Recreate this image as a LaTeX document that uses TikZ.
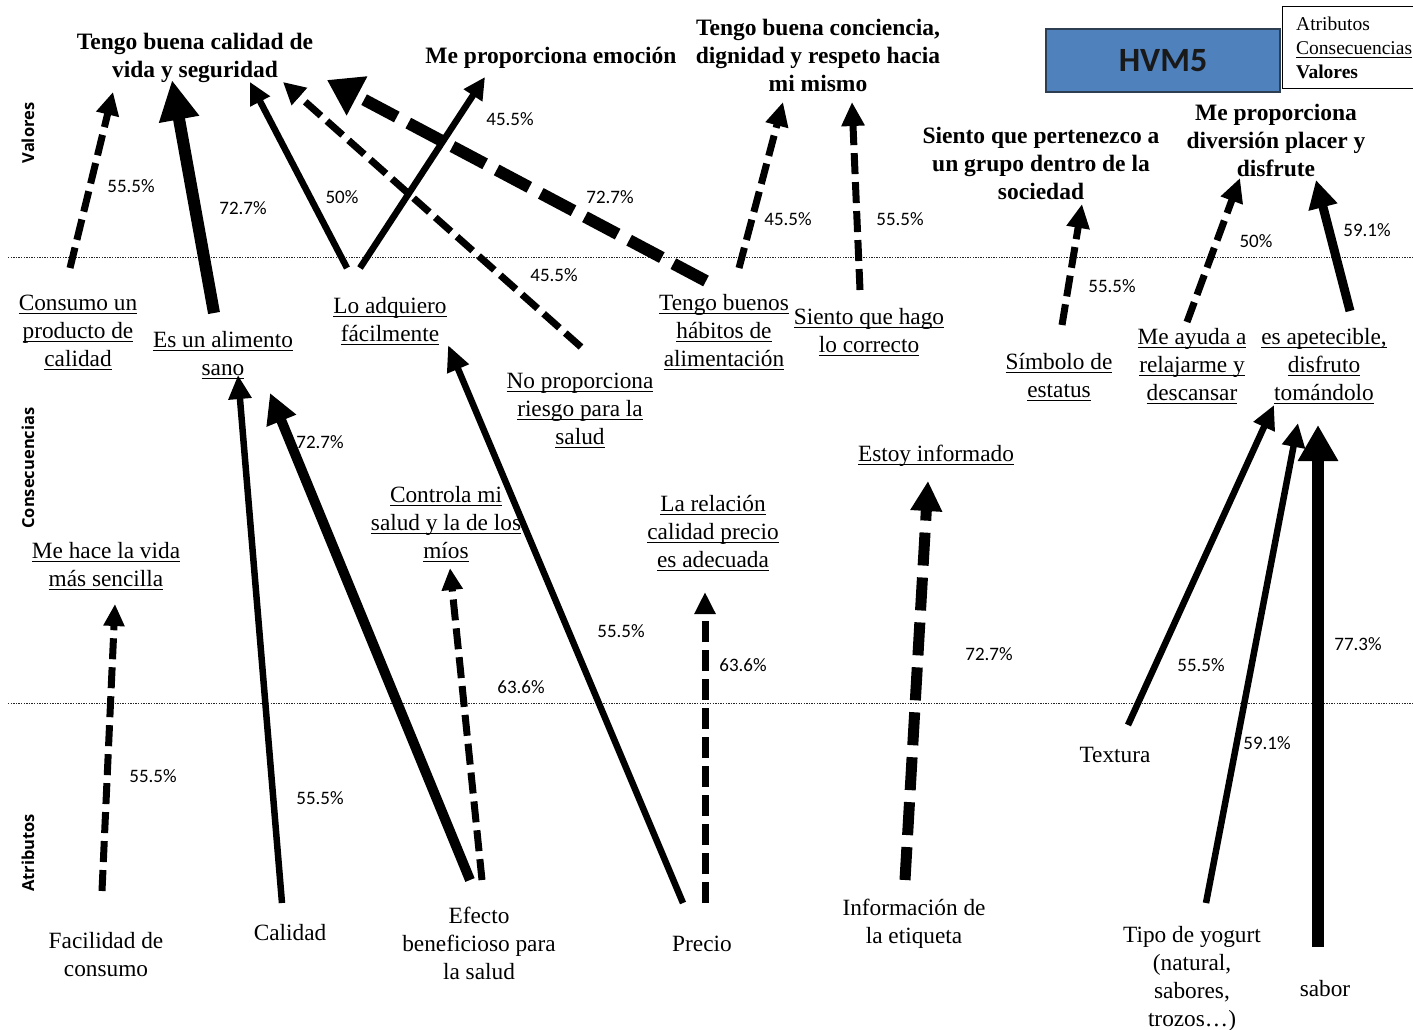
\documentclass[tikz,border=0pt]{standalone}
\usepackage{fontspec}
\setmainfont{Liberation Serif}
\newfontfamily\pctfont{Carlito}
\newfontfamily\sidefont{Open Sans}
\usetikzlibrary{arrows.meta}

% strut for 28pt line spacing, strut for the 24pt legend lines
\newcommand\sv{\vrule width 0pt height 19.6pt depth 8.4pt}
\newcommand\svl{\vrule width 0pt height 16.8pt depth 7.2pt}
% one strutted line, plain or underlined
\newcommand\txl[1]{\sv#1}
\newcommand\ulx[1]{\setbox0\hbox{#1}\sv\rlap{\rule[-3.5pt]{\wd0}{1.3pt}}\box0}

\definecolor{hvmblue}{RGB}{79,129,189}
\definecolor{hvmedge}{RGB}{45,62,82}

\tikzset{
  valnode/.style={font=\fontsize{23.5}{28}\selectfont\bfseries, align=center, inner sep=0pt, yshift=-2pt},
  connode/.style={font=\fontsize{23.3}{28}\selectfont, align=center, inner sep=0pt, yshift=-2pt},
  attnode/.style={font=\fontsize{23.3}{28}\selectfont, align=center, inner sep=0pt, yshift=-2pt},
  pct/.style={font=\pctfont\fontsize{19}{22}\selectfont, inner sep=0pt},
  sidelab/.style={font=\sidefont\bfseries\fontsize{16.5}{18}\selectfont, rotate=90, inner sep=0pt},
  levelline/.style={line width=1pt, dash pattern=on 1.3pt off 1.3pt, black!85},
  arr/.style n args={3}{line width=#1, -{Triangle[length=#2, width=#3]}},
  dsh/.style={dash pattern=on 21pt off 8pt},
  dshwide/.style={dash pattern=on 33pt off 12pt},
  dshbig/.style={dash pattern=on 37pt off 13pt},
}

\begin{document}
\begin{tikzpicture}[x=1pt, y=-1pt]
\useasboundingbox (0,0) rectangle (1413,1030);

% level separators
\draw[levelline] (8,257) -- (1413,257);
\draw[levelline] (8,703) -- (1413,703);

% level names
\node[sidelab] (lv) at (28,133) {Valores};
\node[sidelab] (lc) at (28,468) {Consecuencias};
\node[sidelab] (la) at (28,853) {Atributos};

% title and key
\node[draw=hvmedge, line width=2pt, fill=hvmblue, minimum width=234pt, minimum height=63pt,
      inner sep=0pt, font=\pctfont\bfseries\fontsize{34}{36}\selectfont, text=black!90]
      (title) at (1163,60.5) {HVM5};
\node[draw=black, line width=1.2pt, fill=white, anchor=north west, minimum width=140pt,
      minimum height=82pt, inner sep=0pt] (keybox) at (1282,6) {};
\node[anchor=west, align=left, inner sep=0pt, font=\fontsize{19.5}{24}\selectfont] (keytext) at (1296,50)
  {\svl Atributos\\\setbox0\hbox{Consecuencias}\svl\rlap{\rule[-3pt]{\wd0}{1.1pt}}\box0\\\svl\textbf{Valores}};

% values
\node[valnode] (v1) at (195,56) {\txl{Tengo buena calidad de}\\\txl{vida y seguridad}};
\node[valnode] (v2) at (551,56) {\txl{Me proporciona emoción}};
\node[valnode] (v3) at (818,56) {\txl{Tengo buena conciencia,}\\\txl{dignidad y respeto hacia}\\\txl{mi mismo}};
\node[valnode] (v4) at (1041,164) {\txl{Siento que pertenezco a}\\\txl{un grupo dentro de la}\\\txl{sociedad}};
\node[valnode] (v5) at (1276,141) {\txl{Me proporciona}\\\txl{diversión placer y}\\\txl{disfrute}};

% consequences
\node[connode] (c1) at (78,331) {\ulx{Consumo un}\\\ulx{producto de}\\\ulx{calidad}};
\node[connode] (c2) at (223,354) {\ulx{Es un alimento}\\\ulx{sano}};
\node[connode] (c3) at (390,320) {\ulx{Lo adquiero}\\\ulx{fácilmente}};
\node[connode] (c4) at (580,409) {\ulx{No proporciona}\\\ulx{riesgo para la}\\\ulx{salud}};
\node[connode] (c5) at (724,331) {\ulx{Tengo buenos}\\\ulx{hábitos de}\\\ulx{alimentación}};
\node[connode] (c6) at (869,331) {\ulx{Siento que hago}\\\ulx{lo correcto}};
\node[connode] (c7) at (1059,376) {\ulx{Símbolo de}\\\ulx{estatus}};
\node[connode] (c8) at (1192,365) {\ulx{Me ayuda a}\\\ulx{relajarme y}\\\ulx{descansar}};
\node[connode] (c9) at (1324,365) {\ulx{es apetecible,}\\\ulx{disfruto}\\\ulx{tomándolo}};
\node[connode] (c10) at (936,454) {\ulx{Estoy informado}};
\node[connode] (c11) at (446,523) {\ulx{Controla mi}\\\ulx{salud y la de los}\\\ulx{míos}};
\node[connode] (c12) at (713,532) {\ulx{La relación}\\\ulx{calidad precio}\\\ulx{es adecuada}};
\node[connode] (c13) at (106,565) {\ulx{Me hace la vida}\\\ulx{más sencilla}};

% attributes
\node[attnode] (a1) at (106,955) {\txl{Facilidad de}\\\txl{consumo}};
\node[attnode] (a2) at (290,933) {\txl{Calidad}};
\node[attnode] (a3) at (479,944) {\txl{Efecto}\\\txl{beneficioso para}\\\txl{la salud}};
\node[attnode] (a4) at (702,944) {\txl{Precio}};
\node[attnode] (a5) at (914,922) {\txl{Información de}\\\txl{la etiqueta}};
\node[attnode] (a6) at (1115,755) {\txl{Textura}};
\node[attnode] (a7) at (1192,977) {\txl{Tipo de yogurt}\\\txl{(natural,}\\\txl{sabores,}\\\txl{trozos…)}};
\node[attnode] (a8) at (1325,989) {\txl{sabor}};

% connector ends
\coordinate (c1-up) at (70,268);   \coordinate (v1-in1) at (113,92);
\coordinate (c2-up) at (214,313);  \coordinate (v1-in2) at (172,80);
\coordinate (c3-upl) at (347,268); \coordinate (v1-in3) at (250,82);
\coordinate (c3-upr) at (360,268); \coordinate (v2-in) at (485,77);
\coordinate (c4-up) at (581,347);  \coordinate (v1-in4) at (283,82);
\coordinate (c5-upl) at (706,281); \coordinate (v1-in5) at (327,80);
\coordinate (c5-upr) at (739,268); \coordinate (v3-in1) at (783,102);
\coordinate (c6-up) at (860,290);  \coordinate (v3-in2) at (852,102);
\coordinate (c7-up) at (1062,325); \coordinate (v4-in) at (1082,204);
\coordinate (c8-up) at (1187,322); \coordinate (v5-in1) at (1240,178);
\coordinate (c9-up) at (1350,311); \coordinate (v5-in2) at (1316,180);

\coordinate (a1-up) at (102,891);  \coordinate (c13-in) at (115,604);
\coordinate (a2-up) at (282,903);  \coordinate (c2-in1) at (238,375);
\coordinate (a3-upl) at (470,880); \coordinate (c2-in2) at (270,393);
\coordinate (a3-upr) at (482,880); \coordinate (c11-in) at (450,568);
\coordinate (a4-upl) at (683,903); \coordinate (c3-in) at (448,345);
\coordinate (a4-upr) at (705,903); \coordinate (c12-in) at (705,592);
\coordinate (a5-up) at (905,880);  \coordinate (c10-in) at (928,481);
\coordinate (a6-up) at (1128,725); \coordinate (c9-in1) at (1274,405);
\coordinate (a7-up) at (1206,903); \coordinate (c9-in2) at (1298,423);
\coordinate (a8-up) at (1318,947); \coordinate (c9-in3) at (1318,425);

% consequence -> value links
\draw[arr={7pt}{23pt}{22pt}, dsh] (c1-up) -- (v1-in1);
\draw[arr={12pt}{40pt}{38pt}] (c2-up) -- (v1-in2);
\draw[arr={6.5pt}{22pt}{21pt}] (c3-upl) -- (v1-in3);
\draw[arr={6.5pt}{22pt}{21pt}] (c3-upr) -- (v2-in);
\draw[arr={7pt}{22pt}{22pt}, dsh] (c4-up) -- (v1-in4);
\draw[arr={12pt}{34pt}{42pt}, dshbig] (c5-upl) -- (v1-in5);
\draw[arr={7pt}{24pt}{22pt}, dsh] (c5-upr) -- (v3-in1);
\draw[arr={7pt}{24pt}{22pt}, dsh] (c6-up) -- (v3-in2);
\draw[arr={7pt}{24pt}{22pt}, dsh] (c7-up) -- (v4-in);
\draw[arr={7pt}{24pt}{22pt}, dsh] (c8-up) -- (v5-in1);
\draw[arr={9pt}{28pt}{28pt}] (c9-up) -- (v5-in2);

% attribute -> consequence links
\draw[arr={7pt}{22pt}{20pt}, dsh] (a1-up) -- (c13-in);
\draw[arr={6.5pt}{24pt}{22pt}] (a2-up) -- (c2-in1);
\draw[arr={10pt}{30pt}{30pt}] (a3-upl) -- (c2-in2);
\draw[arr={7pt}{22pt}{20pt}, dsh] (a3-upr) -- (c11-in);
\draw[arr={6.5pt}{26pt}{22pt}] (a4-upl) -- (c3-in);
\draw[arr={7pt}{22pt}{20pt}, dsh] (a4-upr) -- (c12-in);
\draw[arr={11pt}{30pt}{30pt}, dshwide] (a5-up) -- (c10-in);
\draw[arr={6.5pt}{24pt}{22pt}] (a6-up) -- (c9-in1);
\draw[arr={6.5pt}{24pt}{22pt}] (a7-up) -- (c9-in2);
\draw[arr={12pt}{36pt}{38pt}] (a8-up) -- (c9-in3);

% link percentages
\node[pct] (p1) at (131,186) {55.5\%};
\node[pct] (p2) at (243,208) {72.7\%};
\node[pct] (p3) at (342,197) {50\%};
\node[pct] (p4) at (510,119) {45.5\%};
\node[pct] (p5) at (554,275) {45.5\%};
\node[pct] (p6) at (610,197) {72.7\%};
\node[pct] (p7) at (788,219) {45.5\%};
\node[pct] (p8) at (900,219) {55.5\%};
\node[pct] (p9) at (1112,286) {55.5\%};
\node[pct] (p10) at (1256,241) {50\%};
\node[pct] (p11) at (1367,230) {59.1\%};
\node[pct] (p12) at (153,776) {55.5\%};
\node[pct] (p13) at (320,798) {55.5\%};
\node[pct] (p14) at (320,442) {72.7\%};
\node[pct] (p15) at (521,687) {63.6\%};
\node[pct] (p16) at (621,631) {55.5\%};
\node[pct] (p17) at (743,665) {63.6\%};
\node[pct] (p18) at (989,654) {72.7\%};
\node[pct] (p19) at (1201,665) {55.5\%};
\node[pct] (p20) at (1267,743) {59.1\%};
\node[pct] (p21) at (1358,644) {77.3\%};
\end{tikzpicture}
\end{document}
